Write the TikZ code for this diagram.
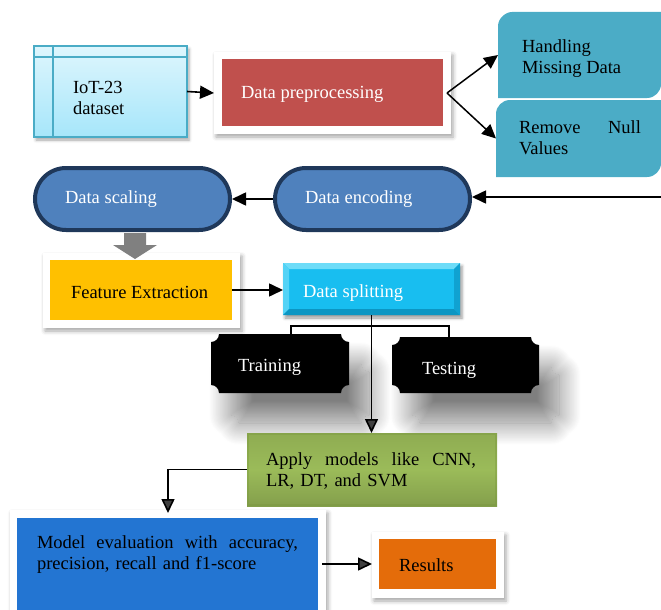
\documentclass[tikz,border=0pt]{standalone}
\usepackage{fontspec}
\setmainfont{Liberation Serif}
\usetikzlibrary{arrows.meta,shadows.blur,calc}
\newcommand\dfont{\fontsize{18.5}{21}\selectfont}
\definecolor{iottop}{RGB}{222,246,253}
\definecolor{iotbot}{RGB}{166,230,250}
\definecolor{iotline}{RGB}{74,172,198}
\definecolor{prered}{RGB}{192,80,77}
\definecolor{tealbox}{RGB}{75,172,198}
\definecolor{stadfill}{RGB}{79,129,189}
\definecolor{stadline}{RGB}{31,56,90}
\definecolor{featyel}{RGB}{255,192,0}
\definecolor{splitc}{RGB}{24,190,240}
\definecolor{splitlt}{RGB}{110,220,248}
\definecolor{splitdk}{RGB}{12,150,195}
\definecolor{applyc}{RGB}{155,187,89}
\definecolor{applydk}{RGB}{120,150,60}
\definecolor{evalc}{RGB}{35,117,210}
\definecolor{resc}{RGB}{228,108,10}
\definecolor{blockgray}{RGB}{128,128,128}
\tikzset{
  box/.style={rectangle, inner sep=0pt, outer sep=0pt, anchor=north west},
  frame/.style={box, fill=white, blur shadow={shadow xshift=2pt, shadow yshift=-3pt, shadow blur radius=4pt, shadow opacity=35}},
  txt/.style={inner sep=0pt, outer sep=0pt, anchor=base west, font=\dfont},
  mtxt/.style={inner sep=0pt, outer sep=0pt, anchor=north west, font=\dfont, align=left},
  stad/.style={rectangle, rounded corners=31pt, minimum width=195pt, minimum height=62pt, fill=stadfill, draw=stadline, line width=4pt, inner sep=0pt},
  conn/.style={line width=1.6pt, -{Triangle[length=14pt, width=13pt]}},
  thinconn/.style={line width=1.5pt, -{Triangle[length=14pt, width=13pt]}},
  bigshadow/.style={blur shadow={shadow xshift=20pt, shadow yshift=-30pt, shadow blur radius=22pt, shadow blur steps=40, shadow opacity=50}},
}
\begin{document}
\begin{tikzpicture}[x=1pt,y=-1pt]
\useasboundingbox (0,0) rectangle (661,610);

% IoT-23 dataset
\node[box, minimum width=153pt, minimum height=91pt, top color=iottop, bottom color=iotbot, draw=iotline, line width=1.5pt,
  blur shadow={shadow xshift=2pt, shadow yshift=-3pt, shadow blur radius=3pt, shadow opacity=35}] (iot) at (34,46) {};
\draw[iotline, line width=1.5pt] ([xshift=19pt]iot.north west) -- ([xshift=19pt]iot.south west);
\draw[iotline, line width=1.5pt] ([yshift=-11pt]iot.north west) -- ([yshift=-11pt]iot.north east);
\node[mtxt] (iott) at (73,81.5) {IoT-23\\dataset};

% Data preprocessing
\node[frame, minimum width=237pt, minimum height=82pt] (pre) at (214,52) {};
\node[box, minimum width=221pt, minimum height=67pt, fill=prered] (preb) at (222,59) {};
\node[txt, text=white] (pret) at (241,99) {Data preprocessing};

% Handling missing data
\node[box, minimum width=163pt, minimum height=86pt] (hand) at (498,12) {};
\fill[tealbox] (498,98) -- (498,26) .. controls (498,18.3) and (505.7,12) .. (512,12) -- (661,12)
  -- (661,84) .. controls (661,91.7) and (654.7,98) .. (647,98) -- cycle;
\node[mtxt] (handt) at (522,39.5) {Handling\\Missing Data};

% Remove null values
\node[box, minimum width=165pt, minimum height=77pt] (remv) at (496,100) {};
\fill[tealbox] (496,177) -- (496,114) .. controls (496,106.3) and (502.3,100) .. (510,100) -- (661,100)
  -- (661,163) .. controls (661,170.7) and (654.7,177) .. (647,177) -- cycle;
\node[mtxt, text width=122pt] (remvt) at (519,120.5) {Remove\hfill Null\\Values};

% arrows top row
\draw[conn] (iot.east) -- (pre.west);
\coordinate (ap) at ([xshift=-4pt]pre.east);
\draw[thinconn] (ap) -- (hand.west);
\draw[thinconn] (ap) -- (remv.west);

% stadiums
\node[stad] (scal) at (132.5,199) {};
\node[txt, text=white] (scalt) at (65,203) {Data scaling};
\node[stad] (enc) at (372.5,199) {};
\node[txt, text=white] (enct) at (305,203) {Data encoding};
\coordinate (rt) at (661,197);
\draw[conn] (rt) -- (enc.east |- rt);
\draw[conn] (enc.west) -- (scal.east);

% Feature extraction
\node[frame, minimum width=197pt, minimum height=75pt] (featf) at (43,253) {};
\node[box, minimum width=182pt, minimum height=60pt, fill=featyel] (feat) at (50,260) {};
\node[txt] (featt) at (71,298) {Feature Extraction};

% grey block arrow
\fill[blockgray] (124,233) -- (146,233) -- (146,245) -- (157,245) -- (135,259) -- (113,245) -- (124,245) -- cycle;

% Data splitting
\node[box, minimum width=177pt, minimum height=52pt, fill=splitc,
  blur shadow={shadow xshift=2pt, shadow yshift=-3pt, shadow blur radius=3pt, shadow opacity=40}] (split) at (283,263) {};
\fill[splitlt] (283,263) -- (460,263) -- (454,269) -- (289,269) -- cycle;
\fill[splitlt!70!splitc] (283,263) -- (289,269) -- (289,309) -- (283,315) -- cycle;
\fill[splitdk] (283,315) -- (289,309) -- (454,309) -- (460,315) -- cycle;
\fill[splitdk!70!splitc] (460,263) -- (460,315) -- (454,309) -- (454,269) -- cycle;
\node[txt, text=white] (splitt) at (303,297) {Data splitting};
\draw[conn] (feat.east) -- (split.west |- feat.east);

% Training / Testing plaques
\node[box, minimum width=138pt, minimum height=59pt] (train) at (211,334) {};
\fill[black, bigshadow] (219,334) -- (341,334) .. controls (341,338.4) and (344.6,342) .. (349,342)
  -- (349,385) .. controls (344.6,385) and (341,388.6) .. (341,393)
  -- (219,393) .. controls (219,388.6) and (215.4,385) .. (211,385)
  -- (211,342) .. controls (215.4,342) and (219,338.4) .. (219,334) -- cycle;
\node[txt, text=white] (traint) at (238,371) {Training};

\node[box, minimum width=147pt, minimum height=56pt] (test) at (392,337) {};
\fill[black, bigshadow] (400,337) -- (531,337) .. controls (531,341.4) and (534.6,345) .. (539,345)
  -- (539,385) .. controls (534.6,385) and (531,388.6) .. (531,393)
  -- (400,393) .. controls (400,388.6) and (396.4,385) .. (392,385)
  -- (392,345) .. controls (396.4,345) and (400,341.4) .. (400,337) -- cycle;
\node[txt, text=white] (testt) at (422,374) {Testing};

% bracket
\coordinate (bl) at (291,326);
\coordinate (br) at (449,326);
\draw[line width=1.6pt] (bl |- train.north) -- (bl) -- (br) -- (br |- test.north);
\draw[line width=1.6pt] (split.south) -- (split.south |- bl);

% Apply models
\node[box, minimum width=250pt, minimum height=73pt, top color=applyc!92!black, bottom color=applyc!85!black, middle color=applyc] (apply) at (247,433) {};
\draw[applydk, line width=2pt, opacity=0.35] (248,434) rectangle (496,505);
\node[mtxt, text width=210pt] (applyt) at (266,452.5) {Apply\hfill models\hfill like\hfill CNN,\\LR, DT, and SVM};
\draw[conn] (split.south) -- (split.south |- apply.north);

% Model evaluation
\node[frame, minimum width=316pt, minimum height=110pt] (evalf) at (10,510) {};
\node[box, minimum width=301pt, minimum height=92pt, fill=evalc] (evalb) at (17,518) {};
\node[mtxt, text width=261pt] (evalt) at (37,535.5) {Model\hfill evaluation\hfill with\hfill accuracy,\\precision, recall and f1-score};
\draw[conn] (apply.west) -| ([yshift=-3pt]evalf.north);

% Results
\node[frame, minimum width=132pt, minimum height=66pt] (resf) at (372,532) {};
\node[box, minimum width=117pt, minimum height=50pt, fill=resc] (resb) at (379,539) {};
\node[txt] (rest) at (399,571) {Results};
\draw[conn] ([xshift=4pt]evalb.east |- resb.west) -- (resf.west |- resb.west);
\end{tikzpicture}
\end{document}
